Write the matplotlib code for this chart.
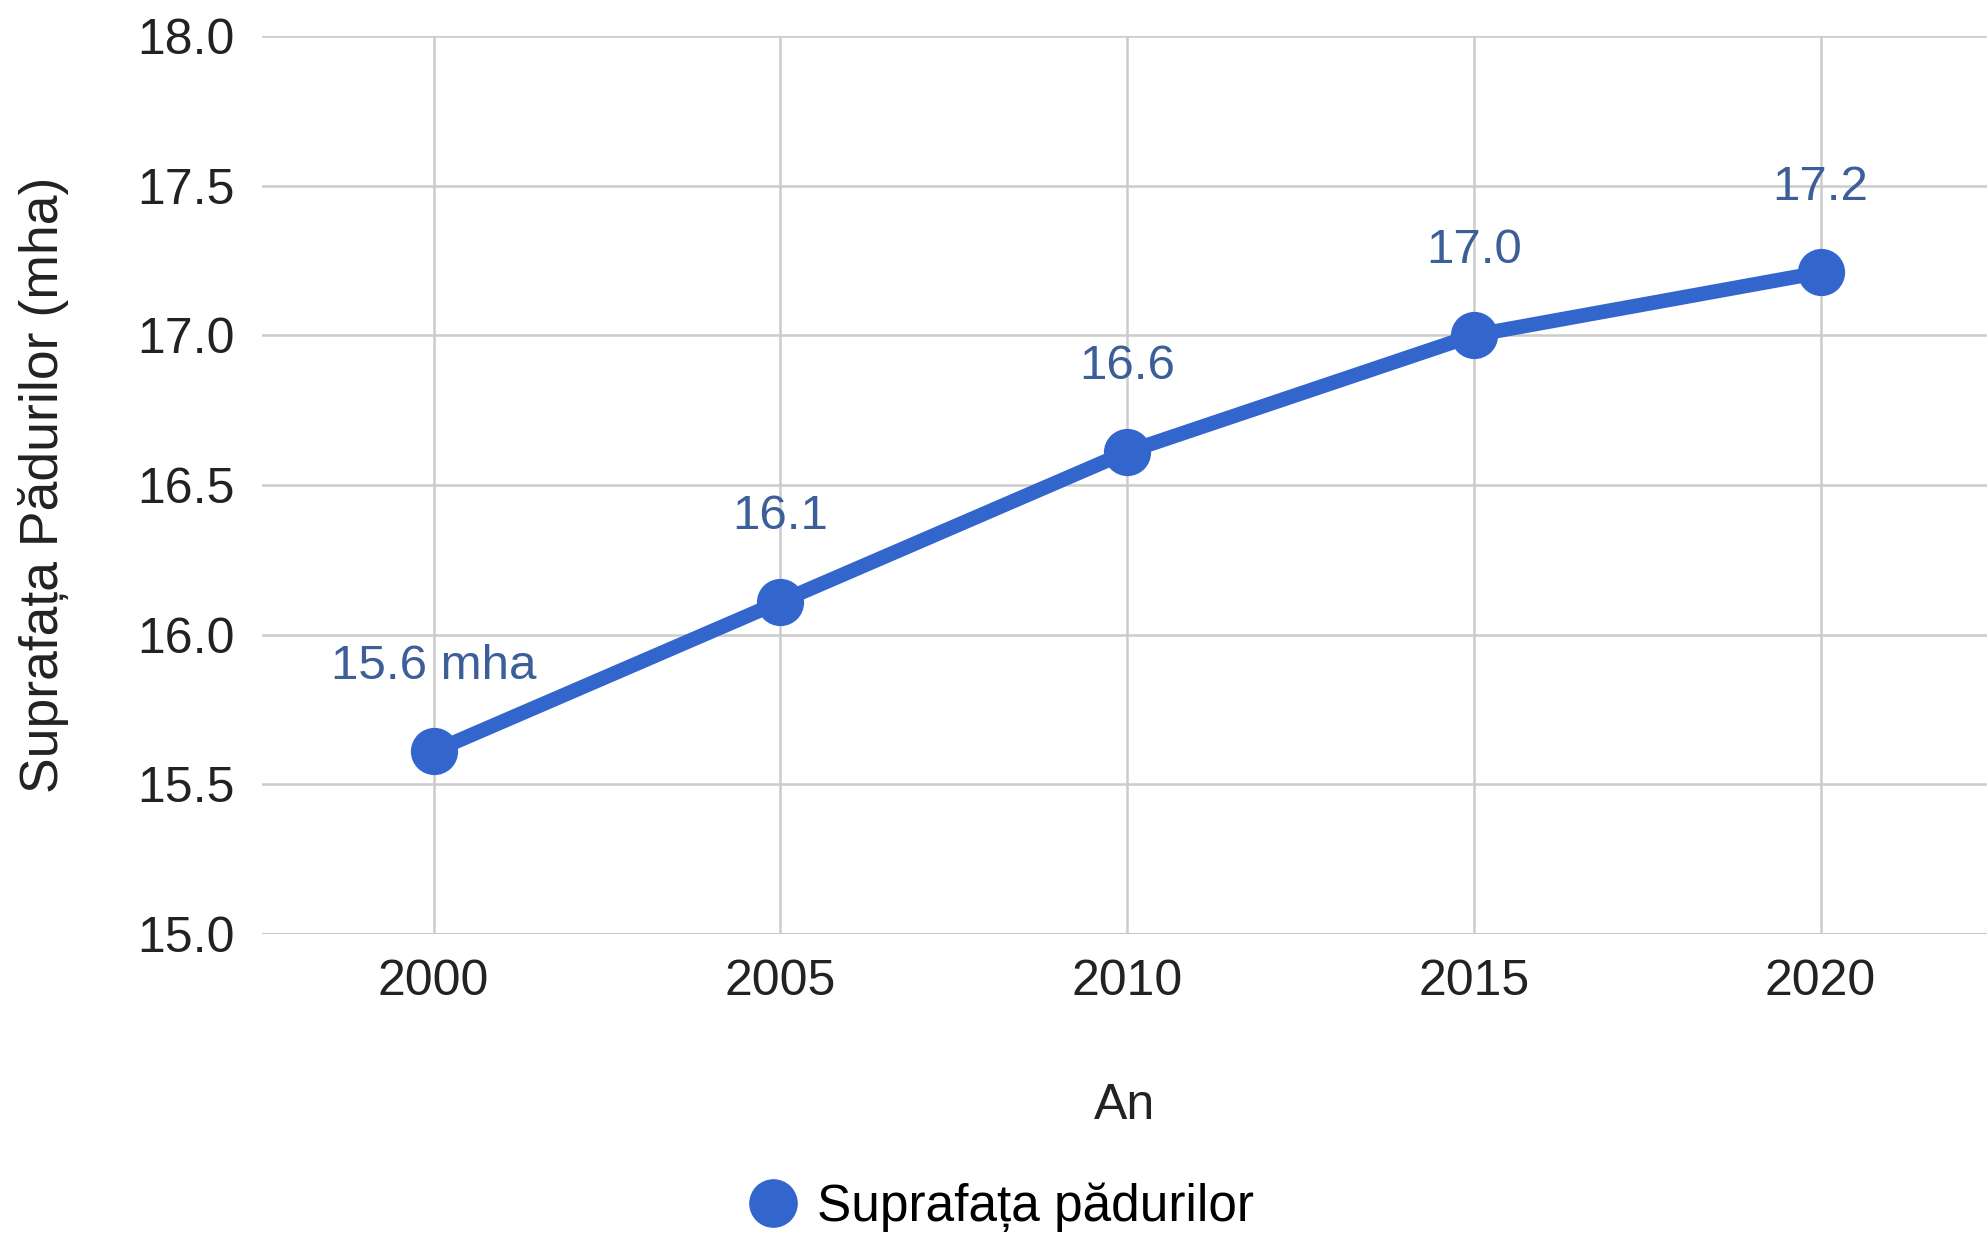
import matplotlib
matplotlib.use("Agg")
import matplotlib.pyplot as plt

years = [2000, 2005, 2010, 2015, 2020]
forest_area = [15.61, 16.11, 16.61, 17.0, 17.21]
label_suffix = [" mha", "", "", "", ""]
y_ticks = [15.0, 15.5, 16.0, 16.5, 17.0, 17.5, 18.0]

plt.rcParams['font.family'] = ['Liberation Sans', 'DejaVu Sans']

blue = '#3366cc'
label_color = '#3c5f99'

fig = plt.figure(figsize=(19.87, 12.37), dpi=100)
ax = fig.add_axes((0.132, 0.245, 0.868, 0.726))

ax.plot(years, forest_area, color=blue, lw=10.5, marker='o', ms=33,
        solid_capstyle='round', zorder=3, label='Suprafața pădurilor')

for x, y, s in zip(years, forest_area, label_suffix):
    ax.annotate(f"{y:.1f}{s}", (x, y), xytext=(0, 45), textcoords='offset points',
                ha='center', va='bottom', fontsize=35.5, color=label_color)

ax.set_xlim(1997.53, 2022.4)
ax.set_ylim(15.0, 18.0)
ax.set_xticks(years)
ax.set_yticks(y_ticks)
ax.set_yticklabels([f"{v:.1f}" for v in y_ticks])
ax.tick_params(axis='both', length=0, labelsize=36, colors='#222222')
ax.tick_params(axis='y', pad=20)
ax.tick_params(axis='x', pad=18)
ax.grid(True, color='#cccccc', lw=1.8)
for sp in ax.spines.values():
    sp.set_visible(False)
ax.axhline(15.0, color='#bbbbbb', lw=2.2, zorder=1)

fig.text(0.566, 0.1055, "An", ha='center', va='center', fontsize=36, color='#222222')
fig.text(0.022, 0.608, "Suprafața Pădurilor (mha)", rotation=90, ha='center', va='center',
         fontsize=38.5, color='#222222')

leg = fig.legend(loc='center', bbox_to_anchor=(0.505, 0.024), frameon=False, fontsize=37,
                 handlelength=0.8, handletextpad=0.45)
for h in leg.legend_handles:
    h.set_linestyle('')
    h.set_markersize(34)

fig.savefig('out.png', dpi=100)
